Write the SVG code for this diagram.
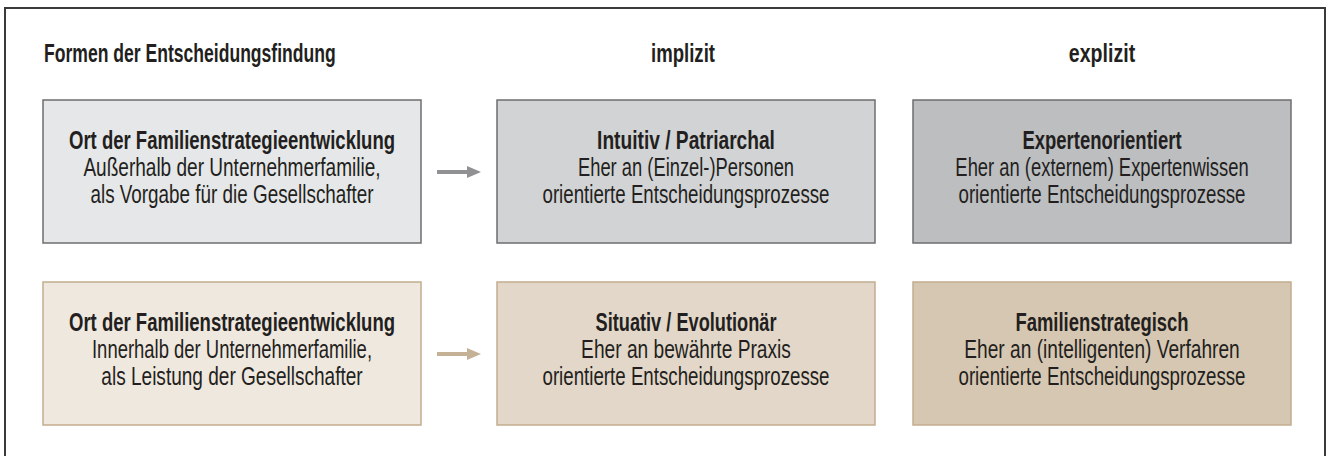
<svg xmlns="http://www.w3.org/2000/svg" width="1328" height="456" viewBox="0 0 1328 456">
  <style>
    text { font-family: "Liberation Sans", Arial, sans-serif; fill: #231f20; font-size: 25px; }
    .hd { font-weight: bold; }
    .c { text-anchor: middle; }
    .b { font-weight: bold; }
    .g rect { stroke: #6d6e70; stroke-width: 1.5; }
    .t rect { stroke: #c3ad8e; stroke-width: 1.5; }
  </style>
  <defs>
    <marker id="ahg" markerWidth="3.5" markerHeight="3" refX="0" refY="1.5" orient="auto" markerUnits="strokeWidth">
      <path d="M0,0 L3.5,1.5 L0,3 Z" fill="#8f9193"/>
    </marker>
    <marker id="aht" markerWidth="3.5" markerHeight="3" refX="0" refY="1.5" orient="auto" markerUnits="strokeWidth">
      <path d="M0,0 L3.5,1.5 L0,3 Z" fill="#c4b196"/>
    </marker>
  </defs>
  <rect width="1328" height="456" fill="#ffffff"/>
  <rect x="5" y="8" width="1320" height="460" fill="none" stroke="#3a3a3a" stroke-width="2"/>

  <g id="headers">
    <g transform="translate(44 0) scale(0.78 1)">
      <text class="hd" x="0" y="62" textLength="374" lengthAdjust="spacingAndGlyphs">Formen der Entscheidungsfindung</text>
    </g>
    <g transform="translate(683 0) scale(0.78 1)">
      <text class="hd c" x="0" y="62" textLength="82" lengthAdjust="spacingAndGlyphs">implizit</text>
    </g>
    <g transform="translate(1102 0) scale(0.78 1)">
      <text class="hd c" x="0" y="62" textLength="85" lengthAdjust="spacingAndGlyphs">explizit</text>
    </g>
  </g>

  <g id="n1" class="g">
    <rect x="43" y="100" width="378" height="143" fill="#e6e7e8"/>
    <g transform="translate(232 0) scale(0.78 1)">
      <text class="c b" x="0" y="149" textLength="418" lengthAdjust="spacingAndGlyphs">Ort der Familienstrategieentwicklung</text>
      <text class="c" x="0" y="176" textLength="381" lengthAdjust="spacingAndGlyphs">Außerhalb der Unternehmerfamilie,</text>
      <text class="c" x="0" y="203" textLength="363" lengthAdjust="spacingAndGlyphs">als Vorgabe für die Gesellschafter</text>
    </g>
  </g>
  <g id="n2" class="g">
    <rect x="497" y="100" width="378" height="143" fill="#d1d3d4"/>
    <g transform="translate(686 0) scale(0.78 1)">
      <text class="c b" x="0" y="149" textLength="228" lengthAdjust="spacingAndGlyphs">Intuitiv / Patriarchal</text>
      <text class="c" x="0" y="176" textLength="277" lengthAdjust="spacingAndGlyphs">Eher an (Einzel-)Personen</text>
      <text class="c" x="0" y="203" textLength="368" lengthAdjust="spacingAndGlyphs">orientierte Entscheidungsprozesse</text>
    </g>
  </g>
  <g id="n3" class="g">
    <rect x="913" y="100" width="378" height="143" fill="#bcbec0"/>
    <g transform="translate(1102 0) scale(0.78 1)">
      <text class="c b" x="0" y="149" textLength="204" lengthAdjust="spacingAndGlyphs">Expertenorientiert</text>
      <text class="c" x="0" y="176" textLength="376" lengthAdjust="spacingAndGlyphs">Eher an (externem) Expertenwissen</text>
      <text class="c" x="0" y="203" textLength="368" lengthAdjust="spacingAndGlyphs">orientierte Entscheidungsprozesse</text>
    </g>
  </g>

  <g id="n4" class="t">
    <rect x="43" y="282" width="378" height="143" fill="#efe8df"/>
    <g transform="translate(232 0) scale(0.78 1)">
      <text class="c b" x="0" y="331" textLength="418" lengthAdjust="spacingAndGlyphs">Ort der Familienstrategieentwicklung</text>
      <text class="c" x="0" y="358" textLength="359" lengthAdjust="spacingAndGlyphs">Innerhalb der Unternehmerfamilie,</text>
      <text class="c" x="0" y="385" textLength="335" lengthAdjust="spacingAndGlyphs">als Leistung der Gesellschafter</text>
    </g>
  </g>
  <g id="n5" class="t">
    <rect x="497" y="282" width="378" height="143" fill="#e2d7c8"/>
    <g transform="translate(686 0) scale(0.78 1)">
      <text class="c b" x="0" y="331" textLength="232" lengthAdjust="spacingAndGlyphs">Situativ / Evolutionär</text>
      <text class="c" x="0" y="358" textLength="269" lengthAdjust="spacingAndGlyphs">Eher an bewährte Praxis</text>
      <text class="c" x="0" y="385" textLength="368" lengthAdjust="spacingAndGlyphs">orientierte Entscheidungsprozesse</text>
    </g>
  </g>
  <g id="n6" class="t">
    <rect x="913" y="282" width="378" height="143" fill="#d6c7b2"/>
    <g transform="translate(1102 0) scale(0.78 1)">
      <text class="c b" x="0" y="331" textLength="222" lengthAdjust="spacingAndGlyphs">Familienstrategisch</text>
      <text class="c" x="0" y="358" textLength="353" lengthAdjust="spacingAndGlyphs">Eher an (intelligenten) Verfahren</text>
      <text class="c" x="0" y="385" textLength="368" lengthAdjust="spacingAndGlyphs">orientierte Entscheidungsprozesse</text>
    </g>
  </g>

  <g id="connectors">
    <line x1="437" y1="172" x2="467" y2="172" stroke="#8f9193" stroke-width="4" marker-end="url(#ahg)"/>
    <line x1="437" y1="354" x2="467" y2="354" stroke="#c4b196" stroke-width="4" marker-end="url(#aht)"/>
  </g>
</svg>
